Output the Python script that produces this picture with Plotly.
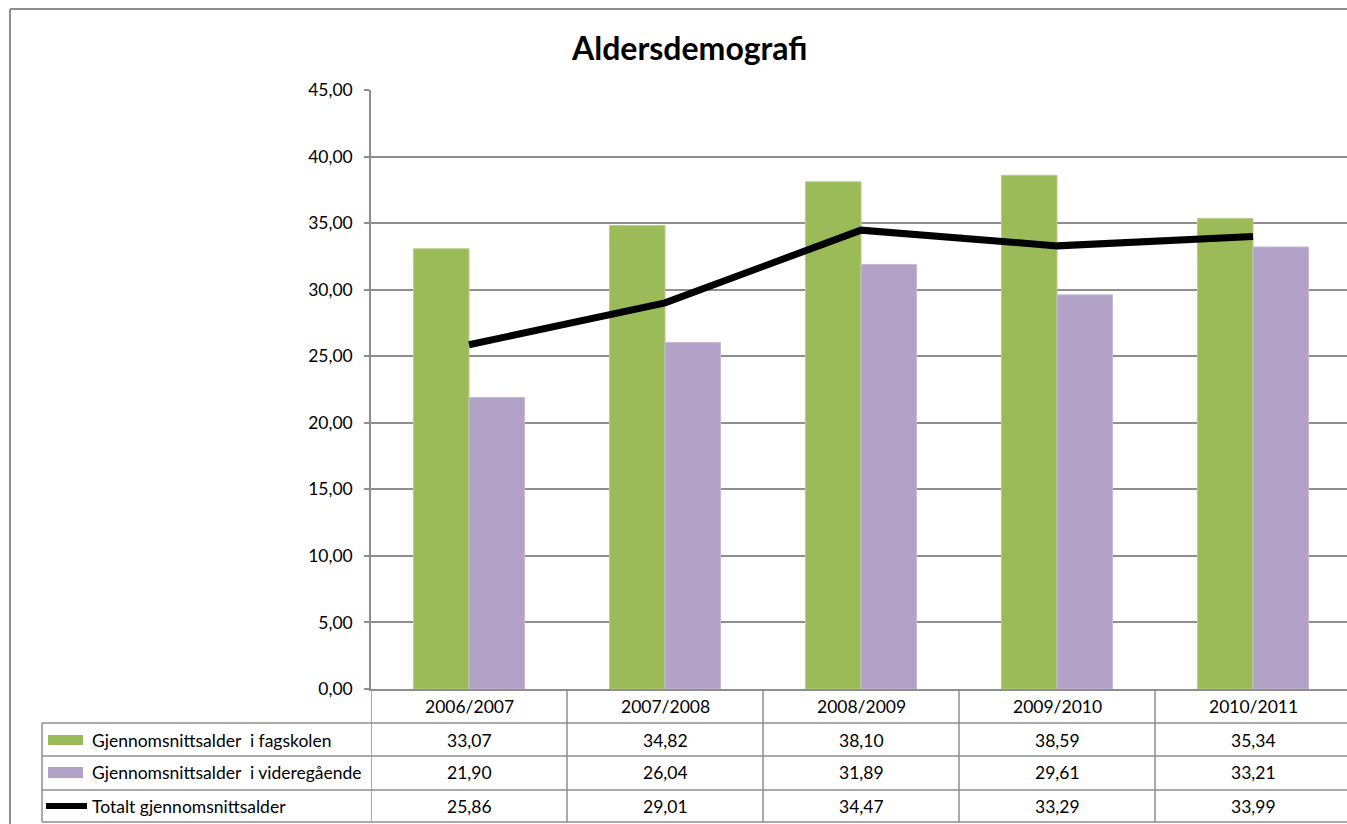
import plotly.graph_objects as go

categories = ["2006/2007", "2007/2008", "2008/2009", "2009/2010", "2010/2011"]
fagskolen = [33.07, 34.82, 38.10, 38.59, 35.34]
videregaende = [21.90, 26.04, 31.89, 29.61, 33.21]
totalt = [25.86, 29.01, 34.47, 33.29, 33.99]
series_names = ["Gjennomsnittsalder  i fagskolen", "Gjennomsnittsalder  i videregående", "Totalt gjennomsnittsalder"]
title_text = "Aldersdemografi"

W, H = 1347, 824
L, T, B = 371, 90, 689
PW = W - L
PH = B - T
FONT = "Lato, Carlito, Calibri, sans-serif"
FS = 17.5
GREEN = "#9BBB59"
PURPLE = "#B3A2C7"
GRID = "#8E8E8E"


def px(x):
    return (x - L) / PW


def py(y):
    return (B - y) / PH


def fmt(v):
    return f"{v:.2f}".replace(".", ",")


fig = go.Figure()
fig.add_trace(go.Bar(x=categories, y=fagskolen, name=series_names[0],
                     marker=dict(color=GREEN, line=dict(color="#B5CF80", width=1))))
fig.add_trace(go.Bar(x=categories, y=videregaende, name=series_names[1],
                     marker=dict(color=PURPLE, line=dict(color="#C6B9D7", width=1))))
fig.add_trace(go.Scatter(x=categories, y=totalt, name=series_names[2], mode="lines",
                         line=dict(color="black", width=7)))

shapes = []
# outer frame
shapes.append(dict(type="line", xref="paper", yref="paper", x0=px(10), x1=px(W + 5), y0=py(9), y1=py(9),
                   line=dict(color=GRID, width=2)))
shapes.append(dict(type="line", xref="paper", yref="paper", x0=px(10), x1=px(10), y0=py(9), y1=py(H + 5),
                   line=dict(color=GRID, width=2)))
# table horizontal lines
for yy in [723, 756, 790, 822]:
    shapes.append(dict(type="line", xref="paper", yref="paper", x0=px(42), x1=px(W + 5), y0=py(yy), y1=py(yy),
                       line=dict(color=GRID, width=1.5)))
# table left line
shapes.append(dict(type="line", xref="paper", yref="paper", x0=px(42), x1=px(42), y0=py(723), y1=py(822),
                   line=dict(color=GRID, width=1.5)))
# vertical separators between categories (axis coords)
for i in range(len(categories)):
    xb = i - 0.5
    shapes.append(dict(type="line", xref="x", yref="paper", x0=xb, x1=xb, y0=0, y1=py(822),
                       line=dict(color=GRID, width=1.5)))
# legend keys in table
shapes.append(dict(type="rect", xref="paper", yref="paper", x0=px(48), x1=px(83), y0=py(745), y1=py(735),
                   fillcolor=GREEN, line=dict(width=0)))
shapes.append(dict(type="rect", xref="paper", yref="paper", x0=px(48), x1=px(83), y0=py(778), y1=py(767),
                   fillcolor=PURPLE, line=dict(width=0)))
shapes.append(dict(type="line", xref="paper", yref="paper", x0=px(46), x1=px(87), y0=py(806), y1=py(806),
                   line=dict(color="black", width=6)))

annotations = []
annotations.append(dict(text="<b>" + title_text + "</b>", xref="paper", yref="paper", x=px(689), y=py(47),
                        showarrow=False, font=dict(family=FONT, size=32, color="black"),
                        xanchor="center", yanchor="middle"))
row_y = [706, 740, 773, 806]
for i, c in enumerate(categories):
    annotations.append(dict(text=c, xref="x", yref="paper", x=i, y=py(row_y[0]), showarrow=False,
                            font=dict(family=FONT, size=FS, color="black"), xanchor="center", yanchor="middle"))
for r, vals in enumerate([fagskolen, videregaende, totalt]):
    for i, v in enumerate(vals):
        annotations.append(dict(text=fmt(v), xref="x", yref="paper", x=i, y=py(row_y[r + 1]), showarrow=False,
                                font=dict(family=FONT, size=FS, color="black"), xanchor="center",
                                yanchor="middle"))
    annotations.append(dict(text=series_names[r], xref="paper", yref="paper", x=px(90), y=py(row_y[r + 1]),
                            showarrow=False, font=dict(family=FONT, size=FS, color="black"),
                            xanchor="left", yanchor="middle"))

fig.update_layout(
    width=W, height=H,
    margin=dict(l=L, r=0, t=T, b=H - B, pad=0),
    paper_bgcolor="white", plot_bgcolor="white",
    showlegend=False,
    barmode="group", bargap=0.434, bargroupgap=0,
    separators=", ",
    shapes=shapes, annotations=annotations,
    font=dict(family=FONT, size=FS, color="black"),
)
fig.update_xaxes(type="category", range=[-0.5, 4.5 - 4 / 196], showticklabels=False, showgrid=False,
                 showline=True, linecolor=GRID, linewidth=1.5, ticks="", zeroline=False)
fig.update_yaxes(range=[0, 45], dtick=5, tick0=0, tickformat=".2f", showgrid=True, gridcolor=GRID,
                 gridwidth=1.5, showline=True, linecolor=GRID, linewidth=1.5, ticks="outside", ticklen=5,
                 tickcolor=GRID, tickwidth=1.5, zeroline=False, ticklabelstandoff=8,
                 tickfont=dict(family=FONT, size=FS, color="black"))

fig.write_html("out.html", config={"displayModeBar": False},
               post_script="document.body.style.margin='0';document.body.style.overflow='hidden';")
